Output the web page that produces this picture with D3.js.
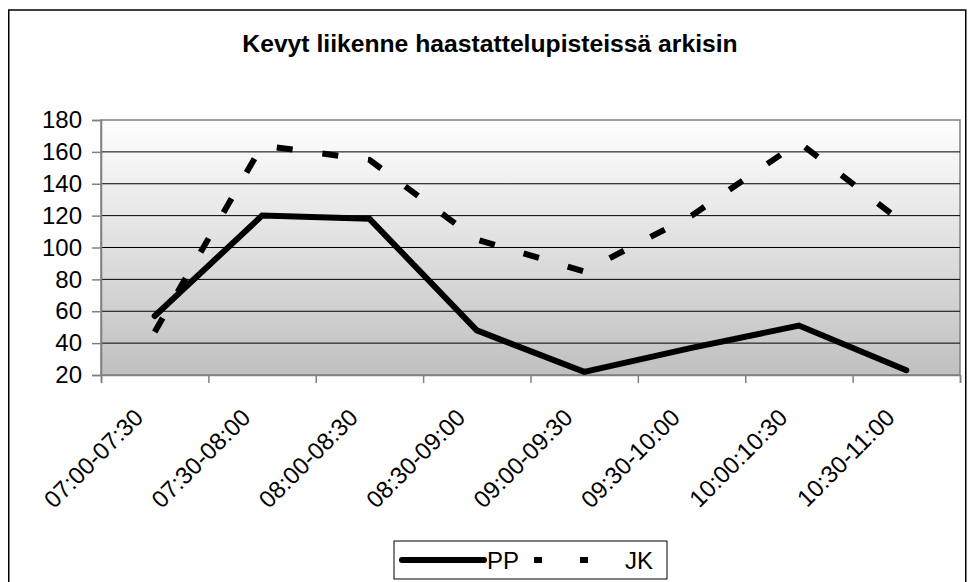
<!DOCTYPE html>
<html>
<head>
<meta charset="utf-8">
<script src="https://cdn.jsdelivr.net/npm/d3@7"></script>
<style>
  body { margin: 0; background: #fff; }
  text { font-family: Arial, "Liberation Sans", sans-serif; }
</style>
</head>
<body>
<script>
'use strict';

var categories = ["07:00-07:30", "07:30-08:00", "08:00-08:30", "08:30-09:00",
  "09:00-09:30", "09:30-10:00", "10:00:10:30", "10:30-11:00"];
var ppValues = [57, 120, 118, 48, 22, 37, 51, 23];
var jkValues = [47, 164, 155, 105, 85, 120, 166, 114];
var yTicks = [20, 40, 60, 80, 100, 120, 140, 160, 180];
var seriesNames = ["PP", "JK"];

var svg = d3.select("body")
  .append("svg")
  .attr("width", 970)
  .attr("height", 582);

var margin = {top: 120, right: 10, bottom: 207, left: 101};
var width = 960 - margin.left;
var height = 375 - margin.top;

// outer frame
svg.append("rect")
  .attr("x", 8.75).attr("y", 10)
  .attr("width", 957).attr("height", 600)
  .attr("fill", "none")
  .attr("stroke", "#000")
  .attr("stroke-width", 1.5);

svg.append("text")
  .attr("x", 490)
  .attr("y", 52)
  .attr("text-anchor", "middle")
  .attr("font-size", "24.7px")
  .attr("font-weight", "bold")
  .text("Kevyt liikenne haastattelupisteissä arkisin");

var defs = svg.append("defs");
var grad = defs.append("linearGradient")
  .attr("id", "bg")
  .attr("x1", 0).attr("y1", 0).attr("x2", 0).attr("y2", 1);
grad.append("stop").attr("offset", "0%").attr("stop-color", "#ffffff");
grad.append("stop").attr("offset", "100%").attr("stop-color", "#c0c0c0");

var g = svg.append("g").attr("transform", "translate(" + margin.left + "," + margin.top + ")");

var x = d3.scaleBand()
  .domain(categories)
  .range([0, width]);

var xEdge = d3.scaleLinear()
  .domain([0, categories.length])
  .range([0, width]);

var y = d3.scaleLinear()
  .domain([20, 180])
  .range([height, 0]);

g.append("rect")
  .attr("width", width)
  .attr("height", height)
  .attr("fill", "url(#bg)")
  .attr("stroke", "#808080")
  .attr("stroke-width", 1.5);

// gridlines
g.selectAll(".grid")
  .data(yTicks.slice(1, -1))
  .enter().append("line")
  .attr("x1", 0).attr("x2", width)
  .attr("y1", d => y(d)).attr("y2", d => y(d))
  .attr("stroke", "#000")
  .attr("stroke-width", 1);

// y axis
var yAxis = g.append("g")
  .call(d3.axisLeft(y).tickValues(yTicks).tickSize(9).tickPadding(10));
yAxis.selectAll("text").attr("font-size", "24px").attr("fill", "#000");
yAxis.selectAll("line, path").attr("stroke", "#808080").attr("stroke-width", 1.5);

// x axis ticks on band edges
var xAxis = g.append("g")
  .attr("transform", "translate(0," + height + ")")
  .call(d3.axisBottom(xEdge).tickValues(d3.range(categories.length + 1)).tickFormat("").tickSize(8));
xAxis.selectAll("line, path").attr("stroke", "#808080").attr("stroke-width", 1.5);

// rotated category labels
g.append("g")
  .selectAll("text")
  .data(categories)
  .enter().append("text")
  .attr("transform", d => "translate(" + (x(d) + x.bandwidth() / 2 - 10) + "," + (height + 44) + ") rotate(-45)")
  .attr("text-anchor", "end")
  .attr("font-size", "24px")
  .text(d => d);

var line = d3.line()
  .x((d, i) => x(categories[i]) + x.bandwidth() / 2)
  .y(d => y(d));

g.append("path")
  .datum(jkValues)
  .attr("fill", "none")
  .attr("stroke", "#000")
  .attr("stroke-width", 6)
  .attr("stroke-dasharray", "16,30")
  .attr("d", line);

g.append("path")
  .datum(ppValues)
  .attr("fill", "none")
  .attr("stroke", "#000")
  .attr("stroke-width", 6)
  .attr("stroke-linecap", "round")
  .attr("d", line);

// legend
var legend = svg.append("g").attr("transform", "translate(394,541)");
legend.append("rect")
  .attr("width", 273).attr("height", 38)
  .attr("fill", "#fff")
  .attr("stroke", "#000")
  .attr("stroke-width", 1);

legend.append("line")
  .attr("x1", 8).attr("x2", 90).attr("y1", 19).attr("y2", 19)
  .attr("stroke", "#000").attr("stroke-width", 6)
  .attr("stroke-linecap", "round");
legend.append("text")
  .attr("x", 93).attr("y", 28)
  .attr("font-size", "24px")
  .text(seriesNames[0]);

legend.append("line")
  .attr("x1", 140).attr("x2", 196).attr("y1", 19).attr("y2", 19)
  .attr("stroke", "#000").attr("stroke-width", 6)
  .attr("stroke-dasharray", "8,38");
legend.append("text")
  .attr("x", 231).attr("y", 28)
  .attr("font-size", "24px")
  .text(seriesNames[1]);
</script>
</body>
</html>
